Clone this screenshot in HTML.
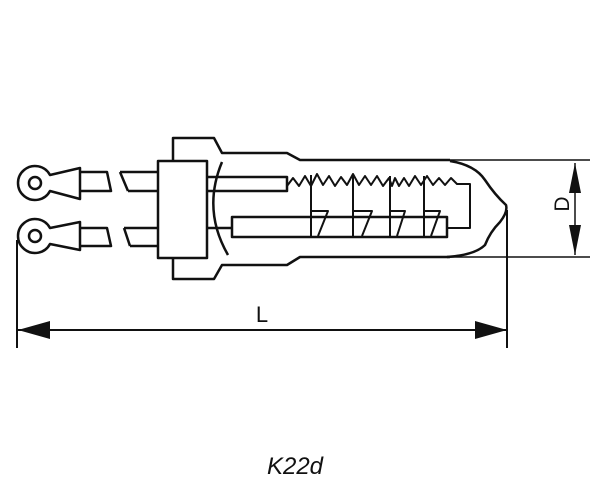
<!DOCTYPE html>
<html><head><style>body{margin:0;background:#fff}svg{display:block}</style></head>
<body>
<svg width="600" height="500" viewBox="0 0 600 500" xmlns="http://www.w3.org/2000/svg" fill="none" stroke="#111" stroke-width="2.5" stroke-linejoin="round">
<g>
<path d="M50,175 A17,17 0 1,0 50,191 L80,199 L80,168 Z" fill="#fff"/>
<circle cx="35" cy="183" r="6"/>
<path d="M80,172 H107 L111,191 H80"/>
<path d="M120,172 H158 M128,191 H158 M120,172 L128,191"/>
<path d="M50,228 A17,17 0 1,0 50,244 L80,250 L80,222 Z" fill="#fff"/>
<circle cx="35" cy="236" r="6"/>
<path d="M80,228 H107 L111,246 H80"/>
<path d="M124,228 H158 M130,246 H158 M124,228 L130,246"/>
</g>
<rect x="158" y="161" width="49" height="97"/>
<path d="M173,161 V138 H214 L222,153 H287 L300,160 H450"/>
<path d="M173,258 V279 H214 L222,265 H287 L300,257 H450"/>
<path d="M222,162 Q202,210 228,255"/>
<path d="M450,161 Q475,165 485,180 Q495,195 506,205 Q508,212 500,222 Q490,232 485,245 Q475,255 447,257"/>
<path d="M207,177 H287 V191 H207"/>
<path d="M207,228 H232"/>
<rect x="232" y="217" width="215" height="20"/>
<path stroke-width="2" d="M287,186 L293,178 L299,186 L305,176 L311,186 L317,174 L323,185 L329,176 L335,186 L341,177 L347,185 L353,174 L359,185 L365,176 L371,185 L377,176 L383,186 L389,178 L392,186 L395,178 L399,186 L404,178 L409,186 L415,176 L421,185 L427,176 L433,185 L439,178 L445,185 L451,178 L457,184 H470 V228 H447"/>
<path stroke-width="2" d="M311,175 V236 M311,211 H328 L318,236 M353,176 V236 M353,211 H372 L362,236 M390,176 V236 M390,211 H405 L397,236 M424,176 V236 M424,211 H440 L431,236"/>
<path stroke-width="1.5" d="M450,160 H590 M447,257 H590 M575,163 V255"/>
<path d="M575,163 L569,193 H581 Z M575,255 L569,225 H581 Z" fill="#111" stroke="none"/>
<text x="0" y="0" transform="translate(569,204) rotate(-90)" font-family="Liberation Sans, sans-serif" font-size="21" fill="#111" stroke="none" text-anchor="middle">D</text>
<path stroke-width="2" d="M17,240 V348 M507,210 V348 M18,330 H507"/>
<path d="M18,330 L50,321 V339 Z M507,330 L475,321 V339 Z" fill="#111" stroke="none"/>
<text x="262" y="322" font-family="Liberation Sans, sans-serif" font-size="22" fill="#111" stroke="none" text-anchor="middle">L</text>
<text x="295" y="474" font-family="Liberation Sans, sans-serif" font-size="24" font-style="italic" fill="#111" stroke="none" text-anchor="middle">K22d</text>
</svg>
</body></html>
